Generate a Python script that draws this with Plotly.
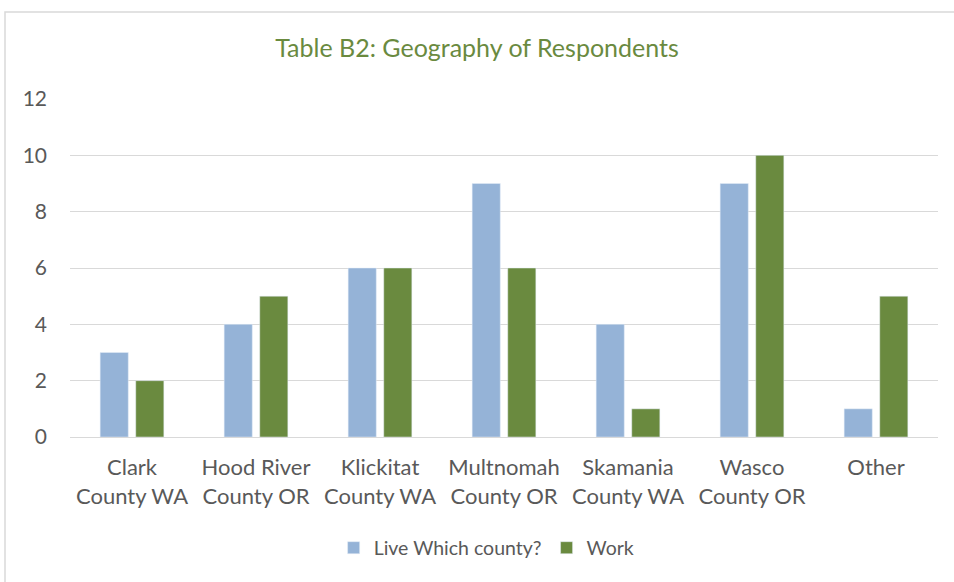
import plotly.graph_objects as go

categories = ["Clark<br>County WA", "Hood River<br>County OR", "Klickitat<br>County WA",
              "Multnomah<br>County OR", "Skamania<br>County WA", "Wasco<br>County OR", "Other"]
live_values = [3, 4, 6, 9, 4, 9, 1]
work_values = [2, 5, 6, 6, 1, 10, 5]
y_ticks = [0, 2, 4, 6, 8, 10, 12]

FONT = "Lato, 'Open Sans', sans-serif"
TEXT = "#595959"

fig = go.Figure()
fig.add_trace(go.Bar(x=categories, y=live_values, name="Live Which county?",
                     marker=dict(color="#95B3D7")))
fig.add_trace(go.Bar(x=categories, y=work_values, name="Work",
                     marker=dict(color="#6A8A3F")))

L, R, T, B = 70, 16, 99, 145
W, H = 954, 582
pw, ph = W - L - R, H - T - B

fig.update_layout(
    width=W, height=H,
    margin=dict(l=L, r=R, t=T, b=B),
    paper_bgcolor="white", plot_bgcolor="white",
    barmode="group", bargap=0.426, bargroupgap=0.21,
    font=dict(family=FONT, color=TEXT, size=21),
    title=dict(text="Table B2: Geography of Respondents", x=0.5, xanchor="center",
               y=(H - 48) / H, yanchor="middle",
               font=dict(family=FONT, size=25, color="#6A8A3F")),
    legend=dict(orientation="h", x=0.48, xanchor="center", y=-(548 - (H - B)) / ph,
                yanchor="middle", font=dict(size=19.5, color=TEXT), itemwidth=30),
    xaxis=dict(showgrid=False, showline=False, ticks="", ticklabelstandoff=15,
               tickfont=dict(size=22, color=TEXT)),
    yaxis=dict(range=[0, 12], tickvals=y_ticks, showgrid=True, gridcolor="#D9D9D9",
               gridwidth=1, zeroline=True, zerolinecolor="#D9D9D9", zerolinewidth=1,
               showline=False, ticks="", ticklabelstandoff=22,
               tickfont=dict(size=21, color=TEXT)),
    shapes=[dict(type="rect", xref="paper", yref="paper",
                 x0=(5 - L) / pw, x1=(W + 10 - L) / pw,
                 y0=-(H + 10 - (H - B)) / ph, y1=((H - B) - 12) / ph,
                 line=dict(color="#D9D9D9", width=1.5), fillcolor="rgba(0,0,0,0)",
                 layer="below")],
)

fig.write_html("out.html")
